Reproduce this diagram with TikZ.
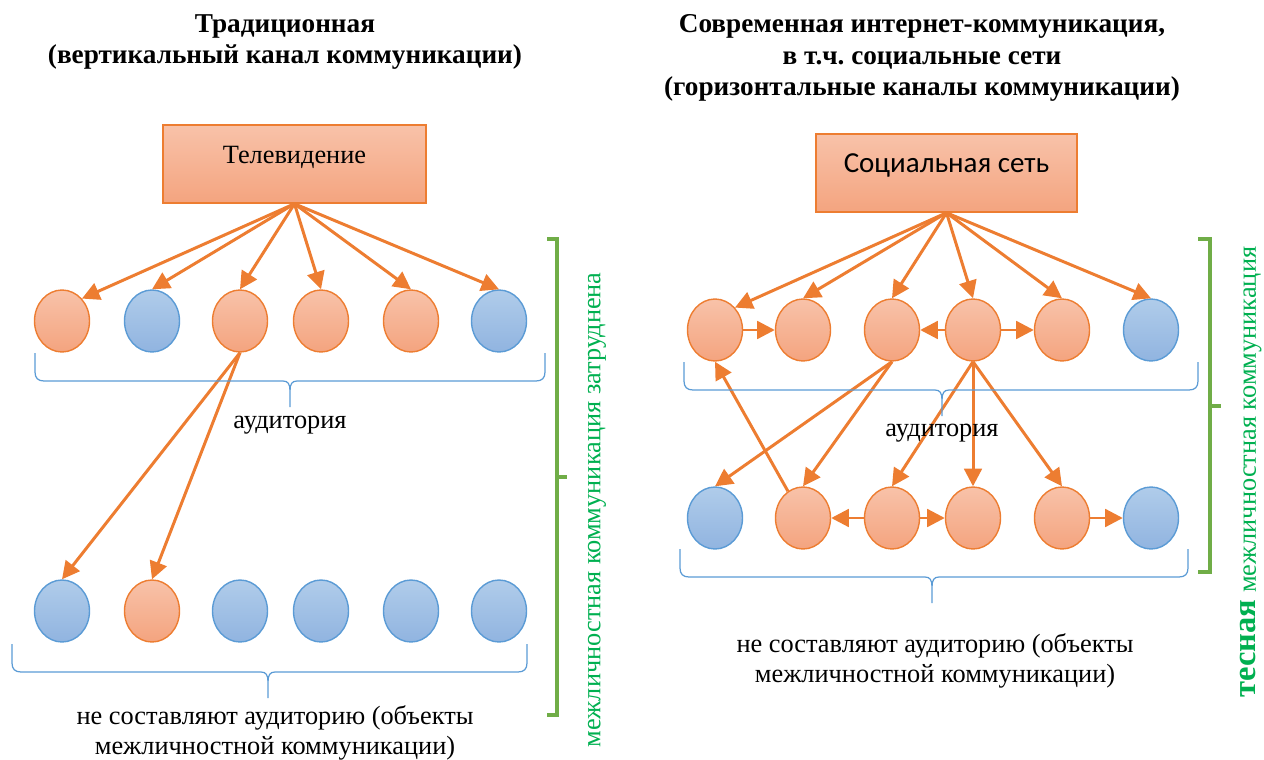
\documentclass[tikz,border=0pt]{standalone}
\usepackage{fontspec}
\setmainfont{Liberation Serif}
\newfontfamily\calibri{Carlito}
\usepackage{tikz}
\usetikzlibrary{positioning,shapes.geometric,arrows.meta}
\frenchspacing

\definecolor{ored}{HTML}{ED7D31}
\definecolor{otop}{HTML}{F8C2A9}
\definecolor{obot}{HTML}{F4A47F}
\definecolor{bblue}{HTML}{5B9BD5}
\definecolor{btop}{HTML}{B0CCEA}
\definecolor{bbot}{HTML}{91B4E0}
\definecolor{gline}{HTML}{70AD47}
\definecolor{gtext}{HTML}{00B050}

\newcommand{\bodysize}{\rmfamily\fontsize{15}{17.5}\selectfont}
\newcommand{\headsize}{\rmfamily\fontsize{15.5}{18}\selectfont\bfseries}

% blue brace under a row: x1, x2, tip x, y of the flat part
\newcommand{\audbrace}[4]{%
  \draw[bbrace] ({#1},{#4-28}) -- ({#1},{#4-9}) .. controls ({#1},{#4-3}) and ({#1+3},{#4}) .. ({#1+9},{#4})
    -- ({#3-7},{#4}) .. controls ({#3-2},{#4}) and ({#3},{#4+3}) .. ({#3},{#4+10}) -- ({#3},{#4+26})
    ({#3},{#4+10}) .. controls ({#3},{#4+3}) and ({#3+2},{#4}) .. ({#3+7},{#4})
    -- ({#2-9},{#4}) .. controls ({#2-3},{#4}) and ({#2},{#4-3}) .. ({#2},{#4-9}) -- ({#2},{#4-28});}

\begin{document}
\begin{tikzpicture}[x=0.02cm,y=-0.02cm,
	ob/.style={ellipse,draw=ored,line width=0.8pt,top color=otop,bottom color=obot,minimum width=1.1cm,minimum height=1.24cm,inner sep=0pt},
	bb/.style={ellipse,draw=bblue,line width=0.8pt,top color=btop,bottom color=bbot,minimum width=1.1cm,minimum height=1.24cm,inner sep=0pt},
	srcbox/.style={rectangle,draw=ored,line width=0.9pt,top color=otop,bottom color=obot,minimum height=1.56cm,text height=8pt,text depth=8pt},
	arr/.style={draw=ored,line width=1.7pt,-{Triangle[length=10pt,width=10pt]}},
	bbrace/.style={draw=bblue,line width=0.7pt},
	gbrack/.style={draw=gline,line width=1.8pt},
	head/.style={align=center,font=\headsize},
	txt/.style={align=center,font=\bodysize}]
		\useasboundingbox (0,0) rectangle (1264,760);

		% titles
		\node[head] (t1) at (285,42) {Традиционная\\(вертикальный канал коммуникации)};
		\node[head] (t2) at (922,58) {Современная интернет-коммуникация,\\в т.ч. социальные сети\\(горизонтальные каналы коммуникации)};

		% left: television
		\node[srcbox,minimum width=5.26cm,font=\bodysize] (tv) at (294.5,164) {Телевидение};

		\node[ob] (lc1) at (62,321) {};
		\node[bb] (lc2) at (152,321) {};
		\node[ob] (lc3) at (240,321) {};
		\node[ob] (lc4) at (321,321) {};
		\node[ob] (lc5) at (411,321) {};
		\node[bb] (lc6) at (499,321) {};

		\node[bb] (lb1) at (62,611) {};
		\node[ob] (lb2) at (152,611) {};
		\node[bb] (lb3) at (240,611) {};
		\node[bb] (lb4) at (321,611) {};
		\node[bb] (lb5) at (411,611) {};
		\node[bb] (lb6) at (499,611) {};

		\draw[arr] (tv.south)--(lc1.north east);
		\draw[arr] (tv.south)--(lc2.north);
		\draw[arr] (tv.south)--(lc3.north);
		\draw[arr] (tv.south)--(lc4.north);
		\draw[arr] (tv.south)--(lc5.north);
		\draw[arr] (tv.south)--(lc6.north);
		\draw[arr] (lc3.south)--(lb1.north);
		\draw[arr] (lc3.south)--(lb2.north);

		\audbrace{35}{545}{290}{381}
		\audbrace{12}{527}{268}{672}
		\node[txt] (aud1) at (290,425) {аудитория};
		\node[txt] (non1) at (275,733) {не составляют аудиторию (объекты\\межличностной коммуникации)};

		\draw[gbrack] (547,239) -- (557,239) -- (557,715) -- (547,715) (557,477) -- (567,477);
		\node[txt,rotate=90,text=gtext] (note1) at (597,510) {межличностная коммуникация затруднена};

		% right: social network
		\node[srcbox,minimum width=5.22cm,font=\calibri\fontsize{16.5}{19}\selectfont] (sn) at (946.5,173) {Социальная сеть};

		\node[ob] (rc1) at (715,330) {};
		\node[ob] (rc2) at (803,330) {};
		\node[ob] (rc3) at (892,330) {};
		\node[ob] (rc4) at (973,330) {};
		\node[ob] (rc5) at (1062,330) {};
		\node[bb] (rc6) at (1151,330) {};

		\node[bb] (rd1) at (715,518) {};
		\node[ob] (rd2) at (803,518) {};
		\node[ob] (rd3) at (892,518) {};
		\node[ob] (rd4) at (973,518) {};
		\node[ob] (rd5) at (1062,518) {};
		\node[bb] (rd6) at (1151,518) {};

		\draw[arr] (sn.south)--(rc1.north east);
		\draw[arr] (sn.south)--(rc2.north);
		\draw[arr] (sn.south)--(rc3.north);
		\draw[arr] (sn.south)--(rc4.north);
		\draw[arr] (sn.south)--(rc5.north);
		\draw[arr] (sn.south)--(rc6.north);

		\draw[arr] (rc1)--(rc2);
		\draw[arr] (rc4)--(rc3);
		\draw[arr] (rc4)--(rc5);

		\draw[arr] (rc3.south)--(rd1.north);
		\draw[arr] (rc3.south)--(rd2.north);
		\draw[arr] (rc4.south)--(rd3.north);
		\draw[arr] (rc4.south)--(rd4.north);
		\draw[arr] (rc4.south)--(rd5.north);
		\draw[arr] (rd2)--(rc1.south);

		\draw[arr] (rd3)--(rd2);
		\draw[arr] (rd3)--(rd4);
		\draw[arr] (rd5)--(rd6);

		\audbrace{684}{1198}{942}{390}
		\audbrace{680}{1188}{932}{577}
		\node[txt] (aud2) at (942,433) {аудитория};
		\node[txt] (non2) at (935,661) {не составляют аудиторию (объекты\\межличностной коммуникации)};

		\draw[gbrack] (1198,239) -- (1210,239) -- (1210,572) -- (1198,572) (1210,406) -- (1221,406);
		\node[txt,rotate=90,text=gtext] (note2) at (1251,472) {{\bfseries\fontsize{18.5}{20}\selectfont тесная} межличностная коммуникация};
	\end{tikzpicture}
\end{document}
